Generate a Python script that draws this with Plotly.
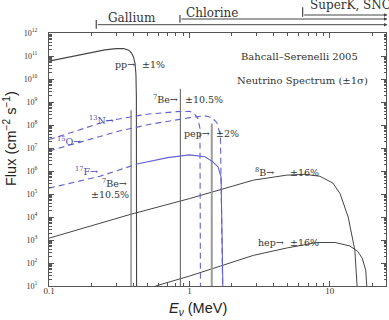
import math
import plotly.graph_objects as go

# ---------------- data ----------------
X_MIN, X_MAX = 0.1, 25.1          # MeV
Y_MIN, Y_MAX = 1e1, 1e12          # flux

pp_energy = [0.1, 0.15, 0.2, 0.25, 0.3, 0.34, 0.37, 0.388, 0.40, 0.41, 0.416, 0.419, 0.4205]
pp_flux = [6.0e10, 1.0e11, 1.45e11, 1.85e11, 2.1e11, 2.1e11, 1.8e11, 1.3e11, 8.9e10, 4.7e10, 1.6e10, 1.6e9, 1.0]

n13_energy = [0.1, 0.18, 0.257, 0.498, 0.811, 1.008, 1.094, 1.149, 1.188, 1.199]
n13_flux = [2.3e7, 7.1e7, 1.48e8, 2.95e8, 3.8e8, 3.9e8, 2.9e8, 1.95e8, 7.1e7, 1.0]

o15_energy = [0.1, 0.175, 0.32, 0.524, 1.008, 1.289, 1.446, 1.569, 1.662, 1.732]
o15_flux = [7.4e6, 2.0e7, 5.6e7, 1.07e8, 2.1e8, 2.5e8, 2.1e8, 1.26e8, 3.4e7, 1.0]

f17_energy = [0.1, 0.231, 0.423, 0.7, 1.0, 1.29, 1.47, 1.6, 1.68, 1.74]
f17_flux = [1.8e5, 5.9e5, 2.0e6, 3.8e6, 5.0e6, 4.2e6, 2.5e6, 1.5e6, 5.4e5, 1.0]

b8_energy = [0.1, 0.38, 1.0, 2.85, 4.92, 6.64, 8.49, 10.5, 11.8, 13.5, 15.06, 15.8, 16.0]
b8_flux = [1.2e3, 1.3e4, 6.3e4, 4.0e5, 6.6e5, 7.2e5, 5.9e5, 3.0e5, 1.05e5, 1.0e4, 3.6e2, 10.0, 1.0]

hep_energy = [0.573, 1.0, 2.85, 4.92, 8.04, 10.9, 13.9, 15.8, 17.0, 18.0, 18.77]
hep_flux = [10.0, 27.0, 214.0, 447.0, 776.0, 776.0, 550.0, 316.0, 162.0, 49.0, 1.0]

be7_line_energy = [0.384, 0.862]
be7_line_flux = [4.4e8, 3.8e9]
pep_line_energy = 1.442
pep_line_flux = 1.15e8

detector_names = ["Gallium", "Chlorine", "SuperK, SNO"]
detector_thresholds = [0.217, 0.856, 6.4]   # MeV (bracket start)

y_tick_exponents = list(range(1, 13))
x_tick_values = [0.1, 1, 10]
x_tick_labels = ["0.1", "1", "10"]

# ---------------- styles ----------------
DARK = "#454545"
GRAY = "#6a6a6a"
LIGHT = "#9a9a9a"
BLUE = "#6262cf"
BLUE_TXT = "#4c4cb4"
SERIF = "DejaVu Serif"

fig = go.Figure()


def line(x, y, color, width=1.0, dash=None):
    fig.add_trace(go.Scatter(x=x, y=y, mode="lines", hoverinfo="skip", showlegend=False,
                             line=dict(color=color, width=width, dash=dash)))


line(pp_energy, pp_flux, DARK, 1.1)
line(b8_energy, b8_flux, DARK, 1.0)
line(hep_energy, hep_flux, DARK, 1.0)
for e, f in zip(be7_line_energy, be7_line_flux):
    line([e, e], [1.0, f], GRAY, 1.1)
line([pep_line_energy, pep_line_energy], [1.0, pep_line_flux], LIGHT, 2.0)
line(n13_energy, n13_flux, BLUE, 1.1, "6px,4px")
line(o15_energy, o15_flux, BLUE, 1.1, "6px,4px")
line(f17_energy[:3], f17_flux[:3], BLUE, 1.1, "6px,4px")
line(f17_energy[2:], f17_flux[2:], BLUE, 1.1)

# ---------------- annotations ----------------
ann = []


def lab(e, f, text, xanchor, color="#333333", size=9.5):
    ann.append(dict(x=math.log10(e), y=math.log10(f), xref="x", yref="y", text=text,
                    showarrow=False, xanchor=xanchor, yanchor="middle",
                    font=dict(family=SERIF, size=size, color=color)))


def ptext(x, y, text, size, family=SERIF, xanchor="center", angle=0, color="#333333", xshift=0):
    ann.append(dict(x=x, y=y, xref="paper", yref="paper", text=text, showarrow=False,
                    xanchor=xanchor, yanchor="middle", textangle=angle, xshift=xshift,
                    font=dict(family=family, size=size, color=color)))


lab(0.421, 4.1e10, "pp→", "right")
lab(0.445, 4.1e10, "±1%", "left")
lab(0.862, 1.3e9, "<sup>7</sup>Be→", "right")
lab(0.90, 1.3e9, "±10.5%", "left")
lab(1.442, 4.2e7, "pep→", "right")
lab(1.49, 4.2e7, "±2%", "left")
lab(0.30, 1.7e8, "<sup>13</sup>N→", "right", BLUE_TXT)
lab(0.1755, 2.0e7, "<sup>15</sup>O→", "right", BLUE_TXT)
lab(0.231, 9.8e5, "<sup>17</sup>F→", "right", BLUE_TXT)
lab(0.373, 2.9e5, "<sup>7</sup>Be→", "right")
lab(0.384, 9.5e4, "±10.5%", "right")
lab(4.13, 8.9e5, "<sup>8</sup>B→", "right")
lab(5.05, 8.9e5, "±16%", "left")
lab(4.84, 760, "hep→", "right")
lab(5.05, 760, "±16%", "left")

ptext(0.742, 0.906, "Bahcall–Serenelli 2005", 10)
ptext(0.751, 0.814, "Neutrino Spectrum (±1σ)", 10)

# axis titles
ptext(0.4436, -0.091, "<i>E<sub>ν</sub></i> (MeV)", 14.5, "Liberation Sans", color="#222222")
ptext(-0.1157, 0.581, "Flux (cm<sup>−2</sup> s<sup>−1</sup>)", 14.5, "Liberation Sans",
      angle=-90, color="#222222")

# detector brackets above the plot
LX0, LX1 = math.log10(X_MIN), math.log10(X_MAX)
PLOT_W, PLOT_H = 337, 253


def paper_x(e):
    return (math.log10(e) - LX0) / (LX1 - LX0)


line_y = [1.0328, 1.0553, 1.0711]
tick_span = [(1.017, 1.0514), (1.0407, 1.0711), (1.0644, 1.1016)]
text_y = [1.058, 1.080, 1.111]
text_dx = [9.7, 4.0, 5.3]
shapes = []
END_X = 1.0045
for name, thr, ly, (t0, t1), ty, dx in zip(detector_names, detector_thresholds, line_y,
                                            tick_span, text_y, text_dx):
    px = paper_x(thr)
    shapes.append(dict(type="line", xref="paper", yref="paper", x0=px, x1=px, y0=t0, y1=t1,
                       line=dict(color=DARK, width=1.2)))
    ann.append(dict(x=END_X, y=ly, xref="paper", yref="paper", text="", showarrow=True,
                    ax=-(END_X - px) * PLOT_W, ay=0, arrowhead=2, arrowsize=0.7,
                    arrowwidth=1, arrowcolor=DARK, standoff=0, startstandoff=0))
    ptext(px, ty, name, 12, xanchor="left", xshift=dx)

# ---------------- axes ----------------
x_minor = [k * 10 ** d for d in (-1, 0, 1) for k in range(2, 10) if k * 10 ** d <= X_MAX]
y_minor = [k * 10 ** d for d in range(1, 12) for k in range(2, 10)]

axis_common = dict(type="log", showgrid=False, zeroline=False, showline=True,
                   linecolor="#555555", linewidth=1, ticks="inside", ticklen=5,
                   tickcolor="#555555", mirror="allticks")

fig.update_layout(
    width=389, height=320,
    margin=dict(l=49, r=3, t=33, b=34),
    plot_bgcolor="white", paper_bgcolor="white",
    xaxis=dict(**axis_common, range=[LX0, LX1], tickmode="array", tickvals=x_tick_values,
               ticktext=x_tick_labels, ticklabelstandoff=-4,
               tickfont=dict(family="Liberation Serif", size=9, color="#333333"),
               minor=dict(ticks="inside", ticklen=3, tickvals=x_minor, tickcolor="#555555",
                          showgrid=False)),
    yaxis=dict(**axis_common, range=[math.log10(Y_MIN), math.log10(Y_MAX)], tickmode="array",
               tickvals=[10 ** k for k in y_tick_exponents],
               ticktext=["10<sup>%d</sup>" % k for k in y_tick_exponents],
               ticklabelstandoff=9,
               tickfont=dict(family="Liberation Serif", size=8, color="#333333"),
               minor=dict(ticks="inside", ticklen=2.5, tickvals=y_minor, tickcolor="#555555",
                          showgrid=False)),
    annotations=ann,
    shapes=shapes,
)

fig.write_html("out.html", config={"displayModeBar": False},
               post_script="document.body.style.margin='0';document.body.style.overflow='hidden';")
